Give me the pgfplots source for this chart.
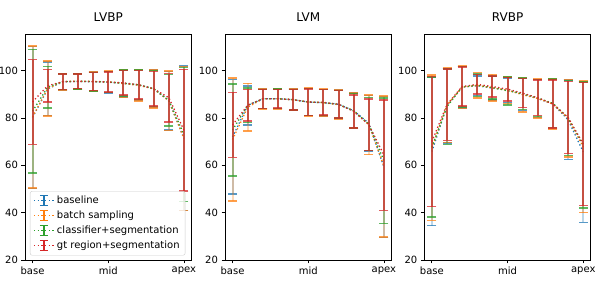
\documentclass[border=0pt]{standalone}
\usepackage{pgfplots}
\pgfplotsset{compat=1.18}
\usepackage{fontspec}
\setmainfont{DejaVu Sans}
\definecolor{cB}{HTML}{1F77B4}
\definecolor{cO}{HTML}{FF7F0E}
\definecolor{cG}{HTML}{2CA02C}
\definecolor{cR}{HTML}{D62728}
\pgfplotsset{
  myaxis/.style={
    scale only axis, width=166.5pt, height=226pt,
    xmin=-0.5, xmax=10.5, ymin=20, ymax=115.5,
    xtick={0,5,10}, xticklabels={base,mid,apex},
    ytick={20,40,60,80,100},
    tick align=outside, tick pos=left, major tick length=3.5pt,
    every tick/.style={black, line width=0.8pt},
    axis line style={line width=0.8pt},
    /pgf/number format/assume math mode=true,
    tick label style={font=\fontsize{10}{12}\selectfont},
    title style={font=\fontsize{12}{14}\selectfont, at={(0.5,1)}, anchor=base, yshift=6pt, inner sep=0pt},
  },
  ser/.style 2 args={color=#1, no marks, line width=1.3pt, dash pattern=on 1.3pt off 2.4pt,
    error bars/.cd, y dir=both, y explicit,
    error bar style={color=#1, line width=2pt, opacity=#2, solid},
    error mark options={rotate=90, color=#1, line width=1.5pt, mark size=4.5pt, opacity=0.75, solid},
    /pgfplots/.cd},
  ebleg/.style={legend image code/.code={
    \draw[##1, line width=1.3pt, dash pattern=on 1.3pt off 2.4pt] (0pt,0pt) -- (20pt,0pt);
    \draw[##1, solid, line width=1.5pt] (10pt,-5pt) -- (10pt,5pt);
    \draw[##1, solid, line width=1.2pt] (6pt,-5pt) -- (14pt,-5pt) (6pt,5pt) -- (14pt,5pt);
  }},
}
\begin{document}
\begin{tikzpicture}
\useasboundingbox (-25pt,-32pt) rectangle (573pt,260pt);
% ---------------- LVBP
\begin{axis}[myaxis, at={(0pt,0pt)}, anchor=south west, title={LVBP},
  legend cell align=left,
  legend style={at={(0.03,0.02)}, anchor=south west, draw=black!20, rounded corners=2pt,
    fill=white, fill opacity=0.8, text opacity=1, font=\fontsize{10}{12}\selectfont,
    inner xsep=3pt, inner ysep=2pt, row sep=0pt,
    nodes={inner sep=2.5pt, text height=7.5pt, text depth=2.5pt}}]
\addplot[ebleg, ser={cB}{0.3}] coordinates {
(0,80.25) +- (0,29.95) (1,92.3) +- (0,11.3) (2,95.3) +- (0,3.5) (3,95.45) +- (0,3.35)
(4,95.35) +- (0,4.05) (5,95.15) +- (0,4.55) (6,94.6) +- (0,5.7) (7,93.95) +- (0,6.45)
(8,92.35) +- (0,7.85) (9,87.3) +- (0,12.3) (10,71.4) +- (0,30.5)};
\addlegendentry{baseline}
\addplot[ebleg, ser={cO}{0.3}] coordinates {
(0,80.45) +- (0,29.95) (1,92.4) +- (0,11.6) (2,95.4) +- (0,3.5) (3,95.55) +- (0,3.35)
(4,95.45) +- (0,4.05) (5,95.3) +- (0,4.5) (6,94.55) +- (0,5.95) (7,93.85) +- (0,6.75)
(8,92.25) +- (0,8.05) (9,87.3) +- (0,12.5) (10,71.35) +- (0,30.35)};
\addlegendentry{batch sampling}
\addplot[ebleg, ser={cG}{0.3}] coordinates {
(0,82.9) +- (0,26.1) (1,93.05) +- (0,8.75) (2,95.35) +- (0,3.35) (3,95.5) +- (0,3.2)
(4,95.4) +- (0,3.9) (5,95.2) +- (0,4.4) (6,94.7) +- (0,5.5) (7,94.05) +- (0,6.25)
(8,92.4) +- (0,7.6) (9,87.5) +- (0,10.8) (10,73.05) +- (0,28.35)};
\addlegendentry{classifier+segmentation}
\addplot[ebleg, ser={cR}{0.7}] coordinates {
(0,86.8) +- (0,17.9) (1,93.65) +- (0,6.95) (2,95.35) +- (0,3.25) (3,95.5) +- (0,3.1)
(4,95.4) +- (0,3.8) (5,95.2) +- (0,4.3) (6,94.85) +- (0,5.15) (7,94.1) +- (0,6.0)
(8,92.35) +- (0,7.35) (9,88.6) +- (0,10.2) (10,74.9) +- (0,25.7)};
\addlegendentry{gt region+segmentation}
\end{axis}
% ---------------- LVM
\begin{axis}[myaxis, at={(200pt,0pt)}, anchor=south west, title={LVM}]
\addplot[ser={cB}{0.3}] coordinates {
(0,72.0) +- (0,24.2) (1,85.35) +- (0,8.25) (2,88.1) +- (0,4.1) (3,88.15) +- (0,4.15)
(4,87.75) +- (0,4.45) (5,86.75) +- (0,5.75) (6,86.5) +- (0,5.6) (7,85.8) +- (0,6.0)
(8,83.1) +- (0,7.5) (9,77.8) +- (0,11.8) (10,59.3) +- (0,29.7)};
\addplot[ser={cO}{0.3}] coordinates {
(0,70.9) +- (0,26.0) (1,84.55) +- (0,10.05) (2,88.1) +- (0,4.2) (3,88.15) +- (0,4.25)
(4,87.75) +- (0,4.55) (5,86.75) +- (0,5.85) (6,86.5) +- (0,5.7) (7,85.6) +- (0,6.2)
(8,83.15) +- (0,7.45) (9,77.15) +- (0,12.65) (10,59.6) +- (0,29.8)};
\addplot[ser={cG}{0.3}] coordinates {
(0,74.9) +- (0,19.5) (1,85.4) +- (0,7.3) (2,88.1) +- (0,4.05) (3,88.15) +- (0,4.1)
(4,87.75) +- (0,4.4) (5,86.75) +- (0,5.7) (6,86.5) +- (0,5.5) (7,85.8) +- (0,5.9)
(8,83.1) +- (0,7.3) (9,77.4) +- (0,11.2) (10,61.95) +- (0,26.55)};
\addplot[ser={cR}{0.7}] coordinates {
(0,77.1) +- (0,13.7) (1,85.4) +- (0,6.6) (2,88.1) +- (0,4.0) (3,88.15) +- (0,4.0)
(4,87.75) +- (0,4.3) (5,86.75) +- (0,5.6) (6,86.6) +- (0,5.4) (7,85.8) +- (0,5.8)
(8,82.75) +- (0,7.05) (9,77.2) +- (0,10.9) (10,64.35) +- (0,23.35)};
\end{axis}
% ---------------- RVBP
\begin{axis}[myaxis, at={(399.3pt,0pt)}, anchor=south west, title={RVBP}]
\addplot[ser={cB}{0.3}] coordinates {
(0,65.8) +- (0,31.3) (1,85.25) +- (0,15.75) (2,93.05) +- (0,8.75) (3,93.65) +- (0,4.15)
(4,92.6) +- (0,5.0) (5,91.8) +- (0,5.2) (6,90.0) +- (0,6.8) (7,88.25) +- (0,7.95)
(8,85.9) +- (0,10.4) (9,79.25) +- (0,16.75) (10,65.65) +- (0,29.75)};
\addplot[ser={cO}{0.3}] coordinates {
(0,67.4) +- (0,30.7) (1,85.5) +- (0,15.8) (2,93.05) +- (0,8.95) (3,93.8) +- (0,5.4)
(4,92.75) +- (0,5.65) (5,91.75) +- (0,5.55) (6,89.85) +- (0,7.25) (7,88.25) +- (0,8.25)
(8,85.9) +- (0,10.6) (9,79.85) +- (0,16.35) (10,67.8) +- (0,27.8)};
\addplot[ser={cG}{0.3}] coordinates {
(0,67.75) +- (0,29.55) (1,84.8) +- (0,15.9) (2,93.15) +- (0,8.55) (3,93.8) +- (0,4.7)
(4,92.9) +- (0,4.9) (5,91.5) +- (0,5.9) (6,90.25) +- (0,6.65) (7,88.45) +- (0,7.85)
(8,86.2) +- (0,10.2) (9,80.0) +- (0,15.8) (10,68.65) +- (0,26.65)};
\addplot[ser={cR}{0.7}] coordinates {
(0,70.05) +- (0,27.45) (1,85.7) +- (0,15.1) (2,93.3) +- (0,8.2) (3,94.2) +- (0,4.1)
(4,93.3) +- (0,4.4) (5,92.2) +- (0,5.0) (6,90.5) +- (0,6.1) (7,88.55) +- (0,7.45)
(8,85.9) +- (0,10.2) (9,80.25) +- (0,15.25) (10,69.05) +- (0,26.05)};
\end{axis}
\end{tikzpicture}
\end{document}
